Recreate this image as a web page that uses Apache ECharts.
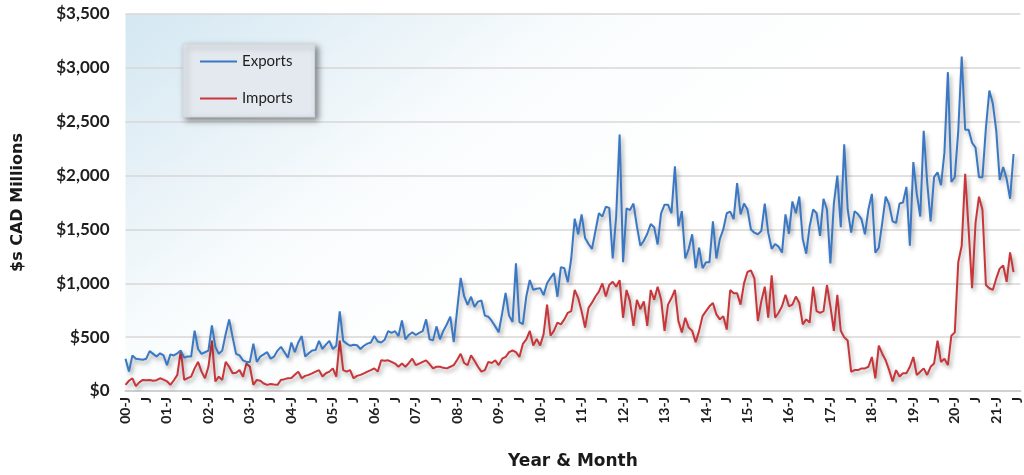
<!DOCTYPE html>
<html>
<head>
<meta charset="utf-8">
<title>Exports and Imports, $s CAD Millions</title>
<script src="https://cdn.jsdelivr.net/npm/echarts@6/dist/echarts.min.js"></script>
<style>
  html, body { margin: 0; padding: 0; background: #ffffff; }
  #chart { width: 1024px; height: 475px; }
</style>
</head>
<body>
<div id="chart"></div>
<script>
// Two-digit years shown on the time axis (Jan of each year), July shown as "J".
const years = ['00','01','02','03','04','05','06','07','08','09','10',
               '11','12','13','14','15','16','17','18','19','20','21'];
const monthCount = 260;              // Jan 2000 .. Aug 2021 on the axis
const yTicks = [0, 500, 1000, 1500, 2000, 2500, 3000, 3500];

// Monthly exports, $s CAD millions (Jan 2000 .. Jun 2021)
const exportsData = [
  300, 180, 330, 300, 295, 290, 300, 370, 345, 320, 350, 330,          // 2000
  240, 340, 330, 350, 375, 310, 320, 320, 560, 390, 345, 360,          // 2001
  375, 610, 410, 345, 375, 530, 665, 500, 345, 330, 285, 270,          // 2002
  270, 440, 270, 320, 340, 360, 300, 320, 375, 410, 360, 310,          // 2003
  450, 360, 450, 510, 320, 350, 375, 380, 465, 390, 430, 465,          // 2004
  390, 420, 740, 465, 440, 420, 430, 425, 390, 420, 440, 450,          // 2005
  510, 460, 450, 475, 555, 540, 555, 510, 655, 480, 520, 545,          // 2006
  520, 540, 555, 665, 480, 470, 600, 480, 560, 620, 690, 455,          // 2007
  760, 1050, 880, 800, 875, 780, 830, 840, 700, 690, 650, 600,         // 2008
  545, 720, 910, 700, 640, 1185, 640, 620, 880, 1030, 940, 950,        // 2009
  955, 890, 1000, 1050, 1095, 875, 1150, 1140, 1010, 1230, 1600, 1455, // 2010
  1640, 1420, 1365, 1320, 1485, 1650, 1620, 1710, 1700, 1230, 1620, 2380, // 2011
  1195, 1695, 1680, 1740, 1530, 1350, 1395, 1460, 1550, 1520, 1360, 1650, // 2012
  1730, 1730, 1650, 2085, 1530, 1670, 1230, 1320, 1455, 1140, 1330, 1140, // 2013
  1195, 1195, 1575, 1230, 1410, 1500, 1650, 1665, 1595, 1930, 1640, 1740, // 2014
  1685, 1500, 1470, 1455, 1485, 1740, 1470, 1320, 1365, 1340, 1285, 1640, // 2015
  1460, 1760, 1650, 1805, 1410, 1275, 1530, 1685, 1650, 1440, 1785, 1685, // 2016
  1185, 1740, 2000, 1520, 2290, 1685, 1470, 1670, 1640, 1595, 1455, 1685, // 2017
  1830, 1285, 1330, 1560, 1805, 1730, 1575, 1560, 1740, 1750, 1895, 1350, // 2018
  2125, 1830, 1620, 2415, 1940, 1575, 1985, 2030, 1910, 2215, 2960, 1940, // 2019
  1985, 2415, 3105, 2425, 2425, 2305, 2260, 1985, 1985, 2440, 2790, 2670, // 2020
  2415, 1960, 2080, 1970, 1785, 2200                                    // 2021
];

// Monthly imports, $s CAD millions (Jan 2000 .. Jun 2021)
const importsData = [
  57, 95, 118, 45, 80, 103, 100, 103, 95, 100, 118, 105,               // 2000
  90, 57, 100, 150, 375, 103, 120, 133, 210, 270, 180, 118,            // 2001
  225, 467, 90, 133, 103, 270, 225, 165, 170, 195, 133, 255,           // 2002
  225, 57, 103, 95, 70, 57, 65, 60, 57, 103, 110, 118,                 // 2003
  120, 150, 180, 118, 140, 150, 164, 180, 194, 134, 165, 180,          // 2004
  210, 134, 467, 194, 180, 194, 118, 140, 150, 164, 180, 194,          // 2005
  210, 180, 285, 280, 285, 270, 255, 225, 255, 225, 260, 300,          // 2006
  240, 255, 270, 285, 250, 210, 225, 225, 215, 210, 225, 240,          // 2007
  290, 346, 260, 240, 331, 280, 225, 180, 194, 270, 260, 285,          // 2008
  240, 300, 316, 361, 376, 361, 316, 437, 480, 558, 422, 483,          // 2009
  422, 528, 802, 513, 560, 635, 619, 665, 726, 741, 938, 863,          // 2010
  741, 589, 772, 820, 877, 923, 999, 877, 984, 1014, 968, 1029,        // 2011
  680, 938, 832, 604, 847, 760, 832, 604, 938, 847, 968, 850,          // 2012
  558, 802, 863, 938, 650, 544, 680, 589, 558, 453, 558, 695,          // 2013
  741, 786, 817, 711, 665, 695, 570, 938, 908, 908, 802, 999,          // 2014
  1105, 1120, 1045, 650, 832, 968, 680, 1075, 680, 726, 786, 893,      // 2015
  786, 802, 877, 817, 619, 665, 635, 968, 741, 726, 741, 984,          // 2016
  786, 558, 893, 559, 498, 468, 179, 194, 194, 210, 210, 225,          // 2017
  316, 118, 422, 346, 285, 194, 88, 194, 134, 164, 164, 225,           // 2018
  316, 149, 179, 210, 149, 225, 255, 468, 270, 300, 240, 513,          // 2019
  544, 1196, 1348, 2016, 1500, 954, 1560, 1804, 1682, 984, 954, 938,   // 2020
  1045, 1136, 1166, 1014, 1287, 1105                                   // 2021
];

// One category per month, keyed "YY-MM"
const categories = [];
years.forEach(function (yy) {
  for (let m = 1; m <= 12; m++) {
    categories.push(yy + '-' + (m < 10 ? '0' + m : m));
  }
});
categories.length = monthCount;

function tickLabel(cat) {
  const parts = cat.split('-');
  if (parts[1] === '01') return parts[0] + '-J';
  if (parts[1] === '07') return 'J';
  return '';
}

function money(v) {
  return '$' + String(v).replace(/\B(?=(\d{3})+(?!\d))/g, ',');
}

const FONT = 'Lato, "DejaVu Sans", sans-serif';
const TITLE_FONT = '"DejaVu Sans", Lato, sans-serif';
const chart = echarts.init(document.getElementById('chart'), null, { renderer: 'canvas' });

chart.setOption({
  animation: false,
  backgroundColor: '#ffffff',
  grid: {
    left: 125.5,
    right: 2,
    top: 14,
    bottom: 77,
    show: true,
    borderWidth: 0,
    backgroundColor: new echarts.graphic.LinearGradient(0, 0, 0.3, 1, [
      { offset: 0, color: '#d4e7f2' },
      { offset: 0.3, color: '#e6f1f7' },
      { offset: 0.6, color: '#f9fcfd' },
      { offset: 1, color: '#ffffff' }
    ])
  },
  legend: {
    orient: 'vertical',
    left: 183,
    top: 44,
    padding: [10, 22, 11, 17],
    itemGap: 22,
    itemWidth: 37,
    itemHeight: 2,
    icon: 'rect',
    backgroundColor: '#e4e9ef',
    borderColor: '#d0d6dd',
    borderWidth: 1,
    shadowColor: 'rgba(0,0,0,0.45)',
    shadowBlur: 6,
    shadowOffsetX: 3,
    shadowOffsetY: 3,
    textStyle: { fontFamily: FONT, fontSize: 15, color: '#1e1e1e' },
    data: ['Exports', 'Imports']
  },
  xAxis: {
    type: 'category',
    data: categories,
    boundaryGap: false,
    name: 'Year & Month',
    nameLocation: 'middle',
    nameGap: 62,
    nameTextStyle: { fontFamily: TITLE_FONT, fontWeight: 'bold', fontSize: 17, color: '#1a1a1a' },
    axisLine: { show: true, lineStyle: { color: '#d0d0d0', width: 2 } },
    axisTick: { show: false },
    splitLine: { show: false },
    axisLabel: {
      interval: function (index) { return index % 6 === 0; },
      rotate: 90,
      margin: 6,
      fontFamily: FONT,
      fontWeight: 'bold',
      fontSize: 14,
      color: '#1e1e1e',
      formatter: tickLabel
    }
  },
  yAxis: {
    type: 'value',
    min: yTicks[0],
    max: yTicks[yTicks.length - 1],
    interval: yTicks[1] - yTicks[0],
    name: '$s CAD Millions',
    nameLocation: 'middle',
    nameGap: 100,
    nameTextStyle: { fontFamily: TITLE_FONT, fontWeight: 'bold', fontSize: 16, color: '#1a1a1a' },
    axisLine: { show: false },
    axisTick: { show: false },
    axisLabel: {
      margin: 16,
      fontFamily: FONT,
      fontWeight: 'bold',
      fontSize: 17,
      color: '#1e1e1e',
      formatter: money
    },
    splitLine: { show: true, lineStyle: { color: '#dad6d6', width: 1.5 } }
  },
  series: [
    {
      name: 'Exports',
      type: 'line',
      data: exportsData,
      symbol: 'none',
      color: '#3a78c4',
      lineStyle: {
        color: '#3a78c4',
        width: 2,
        shadowColor: 'rgba(0,0,0,0.35)',
        shadowBlur: 4,
        shadowOffsetX: 2,
        shadowOffsetY: 3
      },
      z: 3
    },
    {
      name: 'Imports',
      type: 'line',
      data: importsData,
      symbol: 'none',
      color: '#c8363a',
      lineStyle: {
        color: '#c8363a',
        width: 2,
        shadowColor: 'rgba(0,0,0,0.35)',
        shadowBlur: 4,
        shadowOffsetX: 2,
        shadowOffsetY: 3
      },
      z: 2
    }
  ]
});
</script>
</body>
</html>
